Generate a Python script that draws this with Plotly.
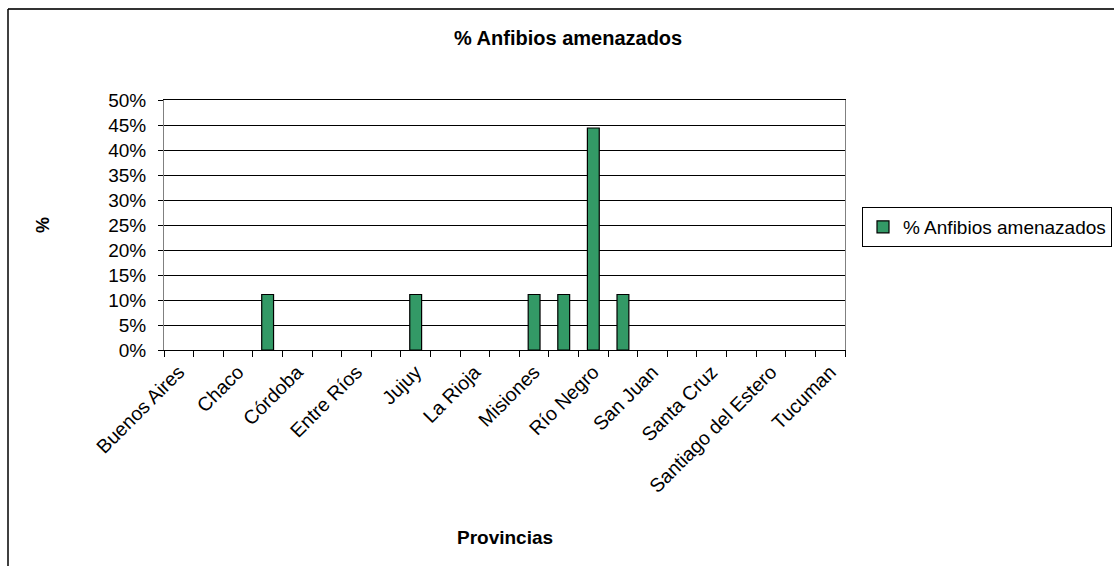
import plotly.graph_objects as go

# Data
provincias = [
    "Buenos Aires", "Catamarca", "Chaco", "Chubut", "Córdoba", "Corrientes",
    "Entre Ríos", "Formosa", "Jujuy", "La Pampa", "La Rioja", "Mendoza",
    "Misiones", "Neuquén", "Río Negro", "Salta", "San Juan", "San Luis",
    "Santa Cruz", "Santa Fe", "Santiago del Estero", "Tierra del Fuego", "Tucuman",
]
pct_anfibios = [
    0, 0, 0, 0.111, 0, 0,
    0, 0, 0.111, 0, 0, 0,
    0.111, 0.111, 0.444, 0.111, 0, 0,
    0, 0, 0, 0, 0,
]
tick_labels = [p if i % 2 == 0 else "" for i, p in enumerate(provincias)]
y_ticks = [0, 0.05, 0.10, 0.15, 0.20, 0.25, 0.30, 0.35, 0.40, 0.45, 0.50]

FONT = "Liberation Sans, Arial, sans-serif"

W, H = 1114, 566
L, R, T, B = 164, 269, 100, 216
PW, PH = W - L - R, H - T - B


def px(x):
    return (x - L) / PW


def py(y):
    return (H - B - y) / PH


fig = go.Figure()
fig.add_trace(go.Bar(
    x=provincias,
    # zero-valued provinces draw no visible bar
    y=[v if v > 0 else None for v in pct_anfibios],
    name="% Anfibios amenazados",
    marker=dict(color="#339966", line=dict(color="black", width=1.2)),
))

fig.update_layout(
    width=W, height=H,
    margin=dict(l=L, r=R, t=T, b=B, autoexpand=False),
    paper_bgcolor="white",
    plot_bgcolor="white",
    bargap=0.6,
    font=dict(family=FONT, size=18, color="black"),
    showlegend=True,
    legend=dict(
        x=px(862), y=py(207), xanchor="left", yanchor="top",
        bordercolor="black", borderwidth=1,
        font=dict(family=FONT, size=19, color="black"),
        itemwidth=30,
    ),
)

fig.update_xaxes(
    type="category",
    tickmode="array",
    tickvals=provincias,
    ticktext=tick_labels,
    tickangle=-45,
    tickson="boundaries",
    ticks="outside",
    ticklen=6,
    tickcolor="black",
    showline=True,
    linecolor="black",
    linewidth=1,
    mirror=True,
    showgrid=False,
    ticklabelstandoff=2,
    tickfont=dict(family=FONT, size=19.5, color="black"),
)

fig.update_yaxes(
    range=[0, 0.5],
    tickmode="array",
    tickvals=y_ticks,
    tickformat=".0%",
    ticks="outside",
    ticklen=5,
    tickcolor="black",
    showline=True,
    linecolor="#808080",
    linewidth=1,
    mirror=True,
    showgrid=True,
    gridcolor="black",
    gridwidth=1,
    zeroline=False,
    ticklabelstandoff=8,
    tickfont=dict(family=FONT, size=19, color="black"),
)

fig.add_annotation(
    text="<b>% Anfibios amenazados</b>", xref="paper", yref="paper",
    x=px(568), y=py(38), xanchor="center", yanchor="middle", showarrow=False,
    font=dict(family=FONT, size=20, color="black"),
)
fig.add_annotation(
    text="<b>%</b>", xref="paper", yref="paper",
    x=px(43), y=py(225), xanchor="center", yanchor="middle", showarrow=False,
    textangle=-90, font=dict(family=FONT, size=18, color="black"),
)
fig.add_annotation(
    text="<b>Provincias</b>", xref="paper", yref="paper",
    x=px(505), y=py(537), xanchor="center", yanchor="middle", showarrow=False,
    font=dict(family=FONT, size=19, color="black"),
)

# Chart area border (top and left visible)
fig.add_shape(type="line", xref="paper", yref="paper",
              x0=px(8), x1=px(1120), y0=py(9), y1=py(9),
              line=dict(color="#333333", width=2))
fig.add_shape(type="line", xref="paper", yref="paper",
              x0=px(8), x1=px(8), y0=py(9), y1=py(575),
              line=dict(color="black", width=1.5))

fig.write_html(
    "out.html",
    config={"displayModeBar": False},
    post_script="document.body.style.margin='0';document.body.style.overflow='hidden';",
)
